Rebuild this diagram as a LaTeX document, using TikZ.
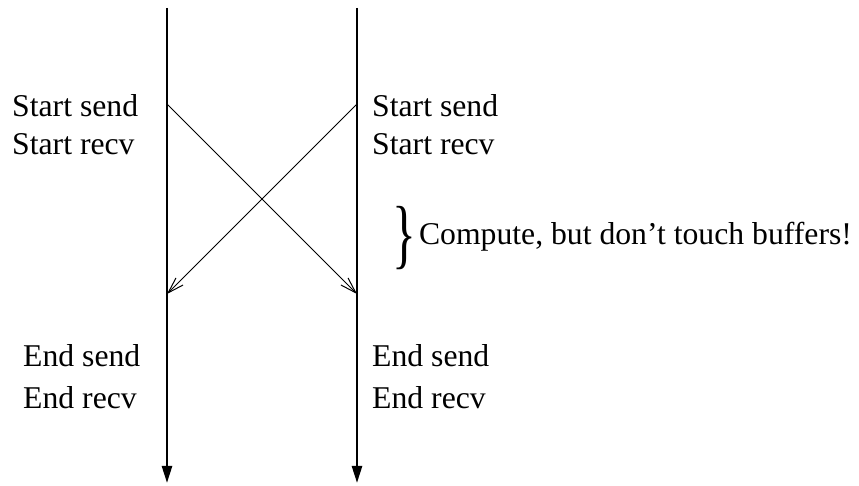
\documentclass[tikz,border=0pt]{standalone}
\usepackage{fontspec}
\setmainfont{Liberation Serif}
\usetikzlibrary{arrows.meta}
\newcommand\bigbrace{\raisebox{-15pt}{\scalebox{0.68}[1.05]{\fontsize{73}{73}\selectfont\}}}\hspace{3pt}}
\begin{document}
\begin{tikzpicture}[x=1pt,y=1pt,
	every node/.style={font=\fontsize{31.7}{38}\selectfont,inner sep=0pt,anchor=base west},
	proc/.style={line width=2.5pt,-{Triangle[length=17pt,width=10pt]}},
	msg/.style={line width=1pt,-{Straight Barb[length=16pt,width=10pt]}}]
	\useasboundingbox(0,0)rectangle(859,486);
	\coordinate(A0)at(167,478);
	\coordinate(A1)at(167,3);
	\coordinate(B0)at(357,478);
	\coordinate(B1)at(357,3);
	\coordinate(As)at(167,382);
	\coordinate(Ar)at(167,192);
	\coordinate(Bs)at(357,382);
	\coordinate(Br)at(357,192);
	% processes
	\draw[proc](A0)--(A1);
	\draw[proc](B0)--(B1);
	% messages
	\draw[msg](As)--(Br);
	\draw[msg](Bs)--(Ar);
	% labels
	\node(ssA)at(12,369.5){Start send};
	\node(srA)at(12,331){Start recv};
	\node(ssB)at(372,369.5){Start send};
	\node(srB)at(372,331){Start recv};
	\node(esA)at(23,119){End send};
	\node(erA)at(23,77){End recv};
	\node(esB)at(372,119){End send};
	\node(erB)at(372,77){End recv};
	\node(comp)at(392,241){\bigbrace Compute, but don't touch buffers!};
\end{tikzpicture}
\end{document}
